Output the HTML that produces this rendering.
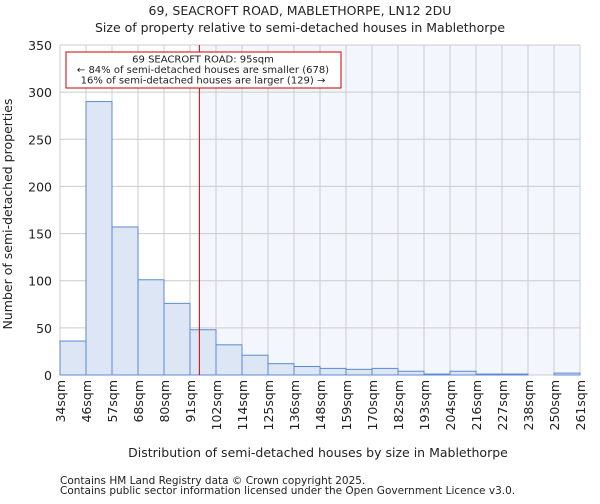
<!DOCTYPE html>
<html><head><meta charset="utf-8"><style>
body{margin:0;background:#fff;font-family:"DejaVu Sans","Liberation Sans",sans-serif;}
svg text{font-family:"DejaVu Sans","Liberation Sans",sans-serif;fill:#222;}
</style></head><body>
<svg id="chart" width="600" height="500" xmlns="http://www.w3.org/2000/svg">
<text x="300" y="15" font-size="12.5" text-anchor="middle">69, SEACROFT ROAD, MABLETHORPE, LN12 2DU</text>
<text x="300" y="32" font-size="12.5" text-anchor="middle">Size of property relative to semi-detached houses in Mablethorpe</text>
<g id="plot"></g>
<text x="318" y="457" font-size="12.5" text-anchor="middle">Distribution of semi-detached houses by size in Mablethorpe</text>
<text transform="translate(12,214) rotate(-90)" font-size="12.5" text-anchor="middle">Number of semi-detached properties</text>
<text x="60" y="484" font-size="10.5" fill="#444">Contains HM Land Registry data © Crown copyright 2025.</text>
<text x="60" y="494" font-size="10.5" fill="#444">Contains public sector information licensed under the Open Government Licence v3.0.</text>
</svg>
<script>
const binLabels=["34sqm","46sqm","57sqm","68sqm","80sqm","91sqm","102sqm","114sqm","125sqm","136sqm","148sqm","159sqm","170sqm","182sqm","193sqm","204sqm","216sqm","227sqm","238sqm","250sqm","261sqm"];
const counts=[36,290,157,101,76,48,32,21,12,9,7,6,7,4,1,4,1,1,0,2];
const yTicks=[0,50,100,150,200,250,300,350];
const propertyBinPos=5.36;
const NS="http://www.w3.org/2000/svg";
const L=60,R=580,T=45,B=375,YMAX=350;
const bw=(R-L)/counts.length;
const x=i=>L+i*bw;
const y=v=>B-(v/YMAX)*(B-T);
const g=document.getElementById('plot');
function mk(t,a){const e=document.createElementNS(NS,t);for(const k in a)e.setAttribute(k,a[k]);g.appendChild(e);return e;}
const px=x(propertyBinPos);
let e=mk('rect',{x:px,y:T,width:R-px,height:B-T,fill:'#f3f6fc'});


for(const t of yTicks){e=mk('line',{x1:L,x2:R,y1:y(t),y2:y(t),stroke:'#ccc'});


e=mk('text',{x:L-8,y:y(t)+5,'font-size':12.5,'text-anchor':'end'});e.textContent=t;

}
binLabels.forEach((l,i)=>{e=mk('line',{x1:x(i),x2:x(i),y1:T,y2:B,stroke:'#ccc'});


e=mk('text',{transform:`translate(${x(i)+5},${B+5}) rotate(-90)`,'font-size':12.5,'text-anchor':'end'});e.textContent=l;

});
counts.forEach((c,i)=>{e=mk('rect',{x:x(i),y:y(c),width:bw,height:B-y(c),fill:'#dce6f4',stroke:'#5b8bd0','stroke-width':1});

});
e=mk('line',{x1:px,x2:px,y1:T,y2:B,stroke:'#c00','stroke-width':1});


e=mk('rect',{x:66,y:52,width:275,height:36,fill:'#fff',stroke:'#c00'});


["69 SEACROFT ROAD: 95sqm","← 84% of semi-detached houses are smaller (678)","16% of semi-detached houses are larger (129) →"].forEach((s,i)=>{
e=mk('text',{x:203,y:62.5+i*10.5,'font-size':10,'text-anchor':'middle'});e.textContent=s;

});
</script>
</body></html>
